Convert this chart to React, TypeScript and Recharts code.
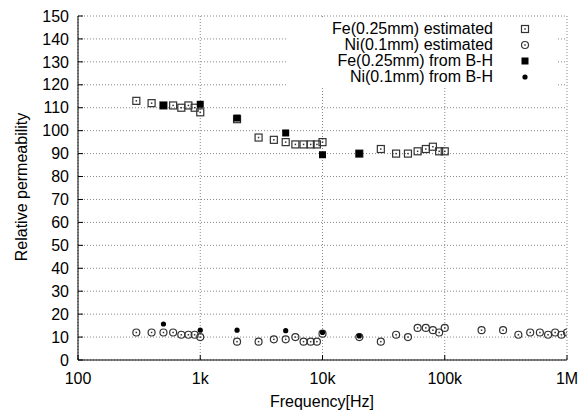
import React from 'react';
import { ScatterChart, Scatter, XAxis, YAxis, CartesianGrid, Legend } from 'recharts';

// tick positions / labels
const freqTicks = [100, 1000, 10000, 100000, 1000000];
const freqTickLabels = ['100', '1k', '10k', '100k', '1M'];
const permTicks = [0, 10, 20, 30, 40, 50, 60, 70, 80, 90, 100, 110, 120, 130, 140, 150];

// Fe(0.25mm) estimated
const feEstFreq = [300, 400, 500, 600, 700, 800, 900, 1000, 2000, 3000, 4000, 5000, 6000, 7000, 8000, 9000, 10000, 20000, 30000, 40000, 50000, 60000, 70000, 80000, 90000, 100000];
const feEstValue = [113, 112, 111, 111, 110, 111, 110, 108, 105, 97, 96, 95, 94, 94, 94, 94, 95, 90, 92, 90, 90, 91, 92, 93, 91, 91];

// Ni(0.1mm) estimated
const niEstFreq = [300, 400, 500, 600, 700, 800, 900, 1000, 2000, 3000, 4000, 5000, 6000, 7000, 8000, 9000, 10000, 20000, 30000, 40000, 50000, 60000, 70000, 80000, 90000, 100000, 200000, 300000, 400000, 500000, 600000, 700000, 800000, 900000, 1000000];
const niEstValue = [12, 12, 12, 12, 11, 11, 11, 10, 8, 8, 9, 9, 10, 8, 8, 8, 11.5, 10, 8, 11, 10, 14, 14, 13, 12, 14, 13, 13, 11, 12, 12, 11, 12, 11, 12];

// from B-H curves
const feBhFreq = [500, 1000, 2000, 5000, 10000, 20000];
const feBhValue = [111, 111.5, 105.5, 99, 89.5, 90];
const niBhFreq = [500, 1000, 2000, 5000, 10000, 20000];
const niBhValue = [15.7, 13, 13, 12.8, 12, 10.5];

const seriesNames = ['Fe(0.25mm) estimated', 'Ni(0.1mm) estimated', 'Fe(0.25mm) from B-H', 'Ni(0.1mm) from B-H'];

const toPoints = (f: number[], v: number[]) => f.map((freq, i) => ({ freq, mu: v[i] }));

const feEst = toPoints(feEstFreq, feEstValue);
const niEst = toPoints(niEstFreq, niEstValue);
const feBh = toPoints(feBhFreq, feBhValue);
const niBh = toPoints(niBhFreq, niBhValue);

const INK = '#333';
const FONT = 16;

const OpenSquare = ({ cx, cy }: any) => (
  <g>
    <rect x={cx - 3.5} y={cy - 3.5} width={7} height={7} fill="none" stroke={INK} strokeWidth={1.2} />
    <rect x={cx - 0.75} y={cy - 0.75} width={1.5} height={1.5} fill={INK} />
  </g>
);

const OpenCircle = ({ cx, cy }: any) => (
  <g>
    <circle cx={cx} cy={cy} r={3.5} fill="none" stroke={INK} strokeWidth={1.2} />
    <rect x={cx - 0.75} y={cy - 0.75} width={1.5} height={1.5} fill={INK} />
  </g>
);

const FilledSquare = ({ cx, cy }: any) => (
  <rect x={cx - 3.5} y={cy - 3.5} width={7} height={7} fill="#000" />
);

const FilledCircle = ({ cx, cy }: any) => <circle cx={cx} cy={cy} r={2.6} fill="#000" />;

const shapes = [OpenSquare, OpenCircle, FilledSquare, FilledCircle];

// gnuplot-style key: text right-aligned, symbol to its right
const KeyBox = () => (
  <div style={{ background: '#fff', width: 268, padding: '2px 0' }}>
    {seriesNames.map((name, i) => {
      const Shape = shapes[i];
      return (
        <div key={name} style={{ display: 'flex', alignItems: 'center', height: 16 }}>
          <span style={{ width: 205, textAlign: 'right', fontSize: FONT, color: '#000', lineHeight: '16px', whiteSpace: 'nowrap' }}>
            {name}
          </span>
          <svg width={63} height={16}>
            <Shape cx={32} cy={8} />
          </svg>
        </div>
      );
    })}
  </div>
);

export default function App() {
  return (
    <div style={{ position: 'absolute', left: 0, top: 0, fontFamily: '"Liberation Sans", Arial, sans-serif' }}>
      <ScatterChart width={586} height={410} margin={{ top: 16, right: 19, bottom: 0, left: 0 }}>
        <CartesianGrid stroke="#888" strokeDasharray="1 2" />
        <XAxis
          dataKey="freq"
          type="number"
          scale="log"
          domain={[100, 1000000]}
          allowDataOverflow
          ticks={freqTicks}
          interval={0}
          tickFormatter={(v: number) => freqTickLabels[freqTicks.indexOf(v)]}
          tick={{ fill: '#000', fontSize: FONT }}
          stroke="#000"
          tickSize={-5}
          tickMargin={18}
          height={50}
          label={{
            content: () => (
              <text x={322} y={407} textAnchor="middle" fontSize={FONT} fill="#000">
                Frequency[Hz]
              </text>
            ),
          }}
        />
        <XAxis
          xAxisId="top"
          orientation="top"
          type="number"
          scale="log"
          domain={[100, 1000000]}
          allowDataOverflow
          ticks={freqTicks}
          tick={false}
          stroke="#000"
          tickSize={-5}
          height={0}
        />
        <YAxis
          dataKey="mu"
          type="number"
          domain={[0, 150]}
          allowDataOverflow
          ticks={permTicks}
          interval={0}
          tick={{ fill: '#000', fontSize: FONT }}
          stroke="#000"
          tickSize={-5}
          tickMargin={14}
          width={78}
          label={{
            content: () => (
              <text
                x={21}
                y={187}
                textAnchor="middle"
                dominantBaseline="central"
                fontSize={FONT}
                fill="#000"
                transform="rotate(-90 21 187)"
              >
                Relative permeability
              </text>
            ),
          }}
        />
        <YAxis
          yAxisId="right"
          orientation="right"
          type="number"
          domain={[0, 150]}
          allowDataOverflow
          ticks={permTicks}
          tick={false}
          stroke="#000"
          tickSize={-5}
          width={0}
        />
        <Legend
          layout="vertical"
          align="center"
          verticalAlign="middle"
          content={KeyBox}
          wrapperStyle={{ top: 19, left: 288, width: 268 }}
        />
        <Scatter name={seriesNames[0]} data={feEst} shape={OpenSquare} isAnimationActive={false} />
        <Scatter name={seriesNames[1]} data={niEst} shape={OpenCircle} isAnimationActive={false} />
        <Scatter name={seriesNames[2]} data={feBh} shape={FilledSquare} isAnimationActive={false} />
        <Scatter name={seriesNames[3]} data={niBh} shape={FilledCircle} isAnimationActive={false} />
      </ScatterChart>
    </div>
  );
}
